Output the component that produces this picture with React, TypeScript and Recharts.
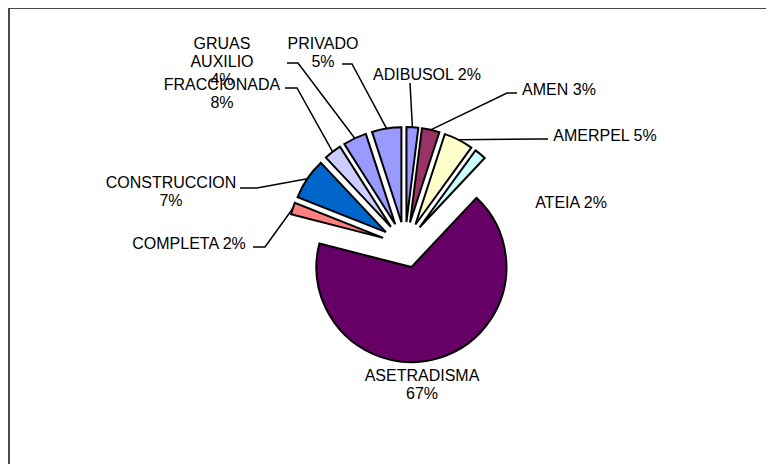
import React from "react";
import { PieChart, Pie, Cell, Sector } from "recharts";

// slices clockwise from 12 o'clock
const NAMES = [
  "ADIBUSOL",
  "AMEN",
  "AMERPEL",
  "ATEIA",
  "ASETRADISMA",
  "COMPLETA",
  "CONSTRUCCION",
  "FRACCIONADA",
  "GRUAS AUXILIO",
  "PRIVADO",
];
const VALUES = [2, 3, 5, 2, 67, 2, 7, 3, 4, 5];
// percentages as printed on the chart
const PCT_LABELS = ["2%", "3%", "5%", "2%", "67%", "2%", "7%", "8%", "4%", "5%"];

const COLORS = [
  "#9999FF",
  "#993366",
  "#FFFFCC",
  "#CCFFFF",
  "#660066",
  "#FF8080",
  "#0066CC",
  "#CCCCFF",
  "#9999FF",
  "#9999FF",
];

const FONT = "'Liberation Sans', Arial, Helvetica, sans-serif";
const RADIUS = 95;
const EXPLODE = 23;
const LINE_H = 18;

// label placement relative to the pie centre; leader = elbow points after the slice edge
type LabelLayout = { x: number; y: number; stack: boolean; leader?: number[][] };
const LABEL_LAYOUT: LabelLayout[] = [
  { x: 22, y: -171, stack: false, leader: [[5, -162]] },
  { x: 154, y: -156, stack: false, leader: [[102, -152], [112, -152]] },
  { x: 200, y: -110, stack: false, leader: [[133, -106], [143, -106]] },
  { x: 166, y: -43, stack: false },
  { x: 17, y: 130, stack: true },
  { x: -216, y: -2, stack: false, leader: [[-140, 2], [-152, 2]] },
  { x: -234, y: -63, stack: true, leader: [[-148, -57], [-165, -57]] },
  { x: -183, y: -161, stack: true, leader: [[-108, -157], [-120, -157]] },
  { x: -183, y: -202, stack: true, leader: [[-107, -182], [-118, -182]] },
  { x: -82, y: -202, stack: true, leader: [[-53, -181], [-63, -181]] },
];

const data = NAMES.map((name, i) => ({ name, value: VALUES[i], pct: PCT_LABELS[i] }));

const renderSlice = (props: any) => {
  const { cx, cy, midAngle, startAngle, endAngle, outerRadius, index } = props;
  const rad = (-midAngle * Math.PI) / 180;
  const ex = cx + EXPLODE * Math.cos(rad);
  const ey = cy + EXPLODE * Math.sin(rad);
  const edgeX = cx + (outerRadius + EXPLODE) * Math.cos(rad);
  const edgeY = cy + (outerRadius + EXPLODE) * Math.sin(rad);

  const layout = LABEL_LAYOUT[index];
  const entry = data[index];
  const lines = layout.stack
    ? [...entry.name.split(" "), entry.pct]
    : [`${entry.name} ${entry.pct}`];

  const points = layout.leader
    ? [[edgeX, edgeY], ...layout.leader.map(([dx, dy]) => [cx + dx, cy + dy])]
        .map((p) => p.join(","))
        .join(" ")
    : null;

  return (
    <g>
      <Sector
        cx={ex}
        cy={ey}
        innerRadius={0}
        outerRadius={outerRadius}
        startAngle={startAngle}
        endAngle={endAngle}
        fill={COLORS[index]}
        stroke="#000"
        strokeWidth={2}
      />
      {points && <polyline points={points} fill="none" stroke="#000" strokeWidth={1.5} />}
      {lines.map((line, i) => (
        <text
          key={i}
          x={cx + layout.x}
          y={cy + layout.y + i * LINE_H + 6}
          textAnchor="middle"
          fontFamily={FONT}
          fontSize={16}
          fill="#000"
        >
          {line}
        </text>
      ))}
    </g>
  );
};

export default function App() {
  return (
    <div
      style={{
        marginTop: -1,
        width: 766,
        height: 457,
        boxSizing: "border-box",
        borderTop: "2px solid #4a4a4a",
        borderLeft: "2px solid #4a4a4a",
        background: "#fff",
      }}
    >
      <PieChart width={764} height={455}>
        <Pie
          data={data}
          dataKey="value"
          nameKey="name"
          cx={390}
          cy={231}
          outerRadius={RADIUS}
          startAngle={90}
          endAngle={-270}
          stroke="none"
          labelLine={false}
          label={renderSlice}
          isAnimationActive={false}
        >
          {data.map((entry, index) => (
            <Cell key={`cell-${index}`} fill="none" />
          ))}
        </Pie>
      </PieChart>
    </div>
  );
}
